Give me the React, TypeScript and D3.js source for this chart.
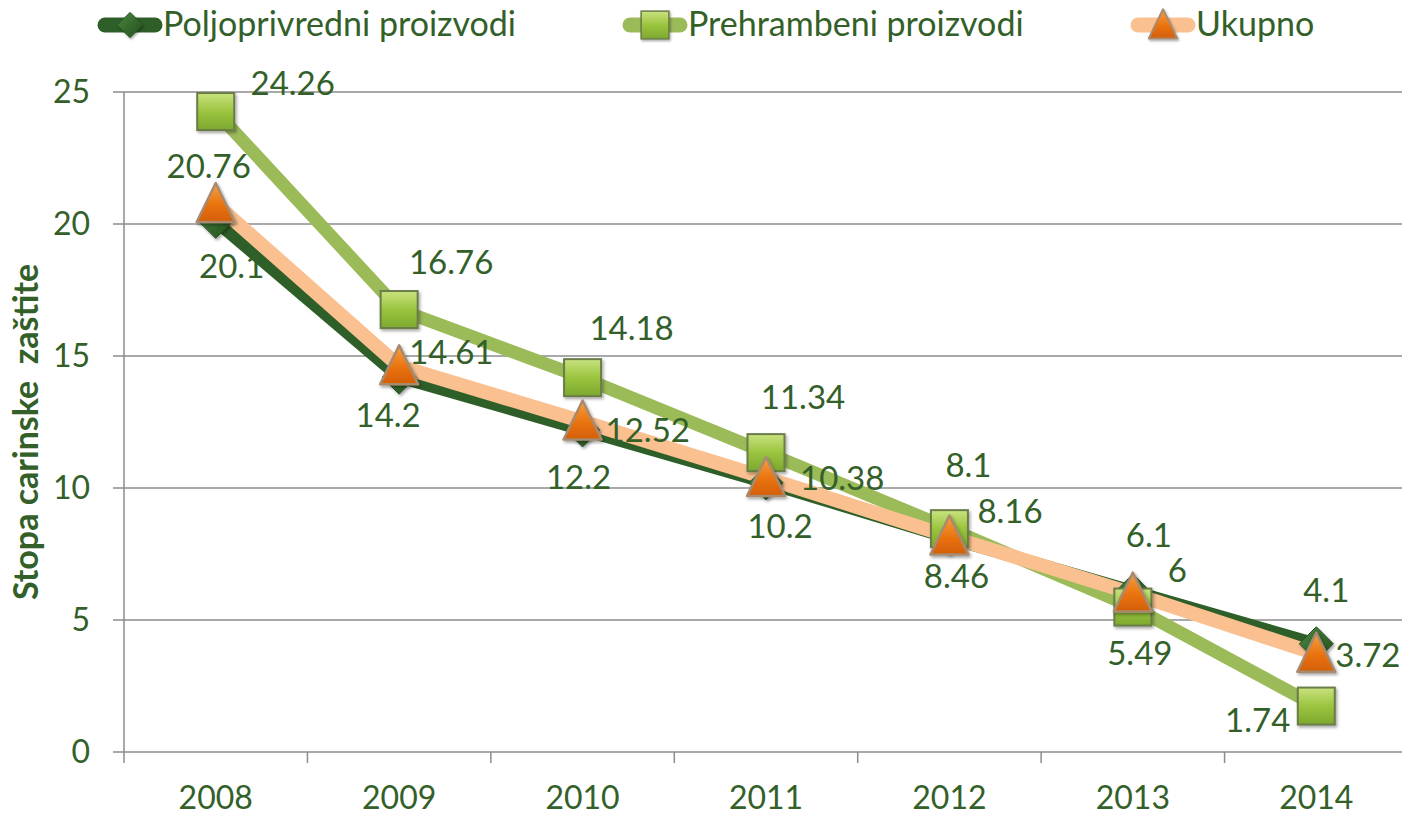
import React, { useEffect, useRef } from "react";
import * as d3 from "d3";

const years = ["2008", "2009", "2010", "2011", "2012", "2013", "2014"];
const poljoprivredni = [20.1, 14.2, 12.2, 10.2, 8.1, 6.1, 4.1];
const prehrambeni = [24.26, 16.76, 14.18, 11.34, 8.46, 5.49, 1.74];
const ukupno = [20.76, 14.61, 12.52, 10.38, 8.16, 6, 3.72];
const yTicks = [0, 5, 10, 15, 20, 25];

// label nudges (dx, dy, anchor) relative to each point, as placed in the original
const labelNudge: Record<string, [number, number, string][]> = {
  polj: [[16, 57, "middle"], [-11, 50, "middle"], [-4, 59, "middle"], [14, 55, "middle"], [19, -61, "middle"], [16, -44, "middle"], [10, -42, "middle"]],
  preh: [[77, -17, "middle"], [52, -36, "middle"], [49, -38, "middle"], [37, -44, "middle"], [7, 59, "middle"], [7, 58, "middle"], [-26, 26, "end"]],
  uk: [[-7, -26, "middle"], [10, -2, "start"], [23, 21, "start"], [34, 12, "start"], [28, -14, "start"], [35, -12, "start"], [19, 13, "start"]],
};

const TEXT = "#336029";

export default function App() {
  const ref = useRef<SVGSVGElement>(null);

  useEffect(() => {
    const svg = d3.select(ref.current);
    svg.selectAll("*").remove();

    const left = 124, right = 1408, top = 92, bottom = 752;
    const x = d3.scaleBand().domain(years).range([left, right]);
    const y = d3.scaleLinear().domain([0, 25]).range([bottom, top]);
    const cx = (yr: string) => x(yr)! + x.bandwidth() / 2;

    const defs = svg.append("defs");
    const grad = (id: string, stops: [number, string][], x2 = "0", y2 = "1") => {
      const g = defs.append("linearGradient").attr("id", id)
        .attr("x1", 0).attr("y1", 0).attr("x2", x2).attr("y2", y2);
      stops.forEach(([o, c]) => g.append("stop").attr("offset", o).attr("stop-color", c));
    };
    grad("gSq", [[0, "#c9e37f"], [0.5, "#9bc43f"], [1, "#7da82e"]]);
    grad("gTri", [[0, "#f7a040"], [0.6, "#e8700c"], [1, "#d45f05"]]);
    grad("gDia", [[0, "#4f8a45"], [0.5, "#356a2d"], [1, "#254f20"]], "1", "1");

    const shadow = defs.append("filter").attr("id", "sh").attr("x", "-30%").attr("y", "-30%")
      .attr("width", "160%").attr("height", "160%");
    shadow.append("feDropShadow").attr("dx", 1.5).attr("dy", 2).attr("stdDeviation", 1.5)
      .attr("flood-color", "#000").attr("flood-opacity", 0.35);

    // gridlines + y ticks
    svg.append("g").selectAll("line").data(yTicks).join("line")
      .attr("x1", left - 11).attr("x2", right)
      .attr("y1", d => y(d)).attr("y2", d => y(d))
      .attr("stroke", "#8c8c8c").attr("stroke-width", 1.5);

    // axes
    svg.append("line").attr("x1", left).attr("x2", left).attr("y1", top).attr("y2", bottom + 11)
      .attr("stroke", "#8c8c8c").attr("stroke-width", 1.5);
    svg.append("g").selectAll("line").data(years.slice(1)).join("line")
      .attr("x1", d => x(d)!).attr("x2", d => x(d)!)
      .attr("y1", bottom).attr("y2", bottom + 11)
      .attr("stroke", "#8c8c8c").attr("stroke-width", 1.5);

    svg.append("g").selectAll("text").data(yTicks).join("text")
      .attr("x", 90).attr("y", d => y(d) + 11)
      .attr("text-anchor", "end").attr("font-size", 32).attr("fill", TEXT)
      .text(d => d);

    svg.append("g").selectAll("text").data(years).join("text")
      .attr("x", d => cx(d)).attr("y", 809)
      .attr("text-anchor", "middle").attr("font-size", 32).attr("fill", TEXT)
      .text(d => d);

    svg.append("text")
      .attr("transform", `translate(38, 432) rotate(-90)`)
      .attr("text-anchor", "middle").attr("font-size", 34).attr("font-weight", "bold")
      .attr("fill", TEXT).attr("xml:space", "preserve")
      .text("Stopa carinske  zaštite");

    const series = [
      { key: "polj", values: poljoprivredni, color: "#2e5f28", width: 12 },
      { key: "preh", values: prehrambeni, color: "#9bbb59", width: 13 },
      { key: "uk", values: ukupno, color: "#fac090", width: 14 },
    ];

    const line = d3.line<number>().x((_, i) => cx(years[i])).y(d => y(d));
    series.forEach(s => {
      svg.append("path").attr("d", line(s.values)).attr("fill", "none")
        .attr("stroke", s.color).attr("stroke-width", s.width)
        .attr("stroke-linejoin", "round");
    });

    const marker = (g: d3.Selection<any, any, any, any>, key: string, px: number, py: number) => {
      if (key === "polj") {
        g.append("path").attr("d", `M${px},${py - 17}L${px + 17},${py}L${px},${py + 17}L${px - 17},${py}Z`)
          .attr("fill", "url(#gDia)").attr("stroke", "#2a4f22").attr("stroke-width", 1)
          .attr("filter", "url(#sh)");
      } else if (key === "preh") {
        g.append("rect").attr("x", px - 18.5).attr("y", py - 18.5).attr("width", 37).attr("height", 37)
          .attr("fill", "url(#gSq)").attr("stroke", "#6b7d48").attr("stroke-width", 2)
          .attr("filter", "url(#sh)");
      } else {
        g.append("path").attr("d", `M${px},${py - 21}L${px + 19},${py + 18}L${px - 19},${py + 18}Z`)
          .attr("fill", "url(#gTri)").attr("stroke", "#a88a70").attr("stroke-width", 2.5)
          .attr("stroke-linejoin", "round").attr("filter", "url(#sh)");
      }
    };

    series.forEach(s => {
      const g = svg.append("g");
      s.values.forEach((v, i) => marker(g, s.key, cx(years[i]), y(v)));
    });

    // data labels
    series.forEach(s => {
      const nudges = labelNudge[s.key];
      s.values.forEach((v, i) => {
        const [dx, dy, anchor] = nudges[i];
        svg.append("text").attr("x", cx(years[i]) + dx).attr("y", y(v) + dy)
          .attr("text-anchor", anchor).attr("font-size", 33).attr("fill", TEXT).text(v);
      });
    });

    // legend
    const legendItems = [
      { key: "polj", name: "Poljoprivredni proizvodi", color: "#2e5f28", x0: 98 },
      { key: "preh", name: "Prehrambeni proizvodi", color: "#9bbb59", x0: 623 },
      { key: "uk", name: "Ukupno", color: "#fac090", x0: 1131 },
    ];
    legendItems.forEach(it => {
      const g = svg.append("g");
      const mx = it.x0 + 32;
      g.append("line").attr("x1", it.x0 + 7).attr("x2", it.x0 + 57).attr("y1", 25).attr("y2", 25)
        .attr("stroke", it.color).attr("stroke-width", 15).attr("stroke-linecap", "round");
      const mg = g.append("g").attr("transform", `translate(${mx},25) scale(0.75) translate(${-mx},-25)`);
      marker(mg, it.key, mx, 25);
      g.append("text").attr("x", it.x0 + 65).attr("y", 36).attr("font-size", 34)
        .attr("fill", TEXT).text(it.name);
    });
  }, []);

  return (
    <svg ref={ref} width={1402} height={816}
      style={{ position: "absolute", left: 0, top: 0, fontFamily: "Lato, 'Open Sans', sans-serif", background: "#fff" }} />
  );
}
